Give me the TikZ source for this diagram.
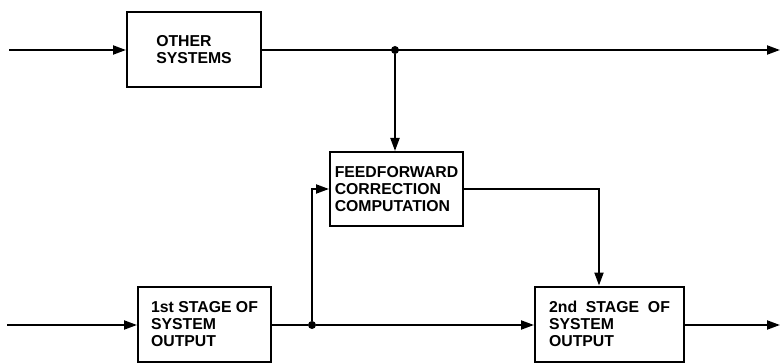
\documentclass[tikz,border=0pt]{standalone}
\usepackage{fontspec}
\setmainfont{Liberation Sans}
\usetikzlibrary{arrows.meta}
\tikzset{
  blk/.style={draw, line width=2pt, inner sep=0pt, align=left,
    font=\bfseries\fontsize{15.8}{17}\selectfont},
  conn/.style={line width=2pt},
  arr/.style={conn, -{Triangle[length=13pt,width=9pt]}},
  jdot/.style={circle, fill, inner sep=0pt, minimum size=8pt}
}
\begin{document}
\begin{tikzpicture}[x=1pt,y=-1pt]
\useasboundingbox (0,0) rectangle (781,363);
\node[blk, minimum width=134pt, minimum height=75pt] (other) at (194,49.5) {OTHER\\SYSTEMS};
\node[blk, minimum width=133pt, minimum height=74pt] (ff) at (396.5,189) {FEEDFORWARD\\CORRECTION\\COMPUTATION};
\node[blk, minimum width=133pt, minimum height=75pt] (s1) at (204.5,324) {1st STAGE OF\\SYSTEM\\OUTPUT};
\node[blk, minimum width=149pt, minimum height=75pt] (s2) at (609.5,324) {2nd\ \ STAGE\ \ OF\\SYSTEM\\OUTPUT};
\coordinate (in1) at (9,50);
\coordinate (out1) at (780,50);
\coordinate (in2) at (7,325);
\coordinate (out2) at (780,325);
\node[jdot] (j1) at (395,50) {};
\node[jdot] (j2) at (312,325) {};
\coordinate (k) at (599,0);
\draw[arr] (in1) -- (in1 -| other.west);
\draw[arr] (other.east |- in1) -- (out1);
\draw[arr] (j1) -- (j1 |- ff.north);
\draw[arr] (ff.east) -| (k |- s2.north);
\draw[arr] (in2) -- (in2 -| s1.west);
\draw[conn] (in2 -| s1.east) -- (j2);
\draw[arr] (j2) -- (in2 -| s2.west);
\draw[arr] (j2) |- (ff.west);
\draw[arr] (in2 -| s2.east) -- (out2);
\end{tikzpicture}
\end{document}
